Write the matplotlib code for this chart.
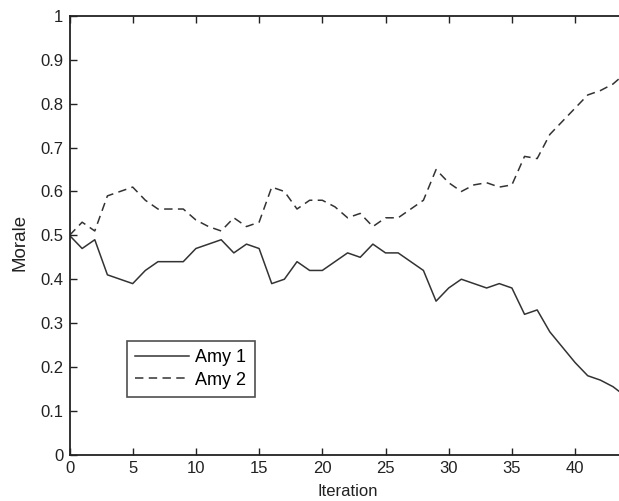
import matplotlib
matplotlib.use("Agg")
import matplotlib.pyplot as plt

iterations = list(range(45))
army1 = [0.50, 0.47, 0.49, 0.41, 0.40, 0.39, 0.42, 0.44, 0.44, 0.44,
         0.47, 0.48, 0.49, 0.46, 0.48, 0.47, 0.39, 0.40, 0.44, 0.42,
         0.42, 0.44, 0.46, 0.45, 0.48, 0.46, 0.46, 0.44, 0.42, 0.35,
         0.38, 0.40, 0.39, 0.38, 0.39, 0.38, 0.32, 0.33, 0.28, 0.245,
         0.21, 0.18, 0.17, 0.155, 0.133]
army2 = [0.50, 0.53, 0.51, 0.59, 0.60, 0.61, 0.58, 0.56, 0.56, 0.56,
         0.535, 0.52, 0.51, 0.54, 0.52, 0.53, 0.61, 0.60, 0.56, 0.58,
         0.58, 0.565, 0.54, 0.55, 0.52, 0.54, 0.54, 0.56, 0.58, 0.65,
         0.62, 0.60, 0.615, 0.62, 0.61, 0.615, 0.68, 0.675, 0.73, 0.76,
         0.79, 0.82, 0.83, 0.845, 0.87]
labels = ["Amy 1", "Amy 2"]
xticks = [0, 5, 10, 15, 20, 25, 30, 35, 40]
yticks = [0, 0.1, 0.2, 0.3, 0.4, 0.5, 0.6, 0.7, 0.8, 0.9, 1]

plt.rcParams['font.family'] = ['Liberation Sans', 'DejaVu Sans']

fig = plt.figure(figsize=(6.19, 5.01), dpi=100)
W, H = 619, 501
x0, y0 = 69.5, 454.7
pxu = 12.64
axw = 44 * pxu
ax = fig.add_axes([x0 / W, (H - y0) / H, axw / W, (y0 - 16) / H])

c = '#333333'
ax.plot(iterations, army1, color=c, lw=1.1, label=labels[0])
ax.plot(iterations, army2, color=c, lw=1.1, linestyle=(0, (5.5, 3.5)), label=labels[1])

ax.set_xlim(0, 44)
ax.set_ylim(0, 1)
ax.set_xticks(xticks)
ax.set_yticks(yticks)
ax.set_yticklabels(['%g' % v for v in yticks])
ax.tick_params(direction='in', length=5, width=1, top=True, right=True,
               labelsize=12, pad=4.5, colors='#222222')
for s in ax.spines.values():
    s.set_linewidth(1.3)
    s.set_color('#222222')

ax.set_xlabel('Iteration', fontsize=12, labelpad=6, color='#222222')
ax.set_ylabel('Morale', fontsize=13.5, color='#222222')
ax.yaxis.set_label_coords((28 - x0) / axw, (y0 - 242) / (y0 - 16))

leg = ax.legend(loc='lower left', bbox_to_anchor=(0.103, 0.132), fontsize=13,
                frameon=True, fancybox=False, edgecolor='#222222',
                handlelength=3.0, handletextpad=0.35, borderpad=0.45,
                labelspacing=0.3, borderaxespad=0)
leg.get_frame().set_linewidth(1.2)

fig.savefig('out.png', dpi=100, facecolor='white')
